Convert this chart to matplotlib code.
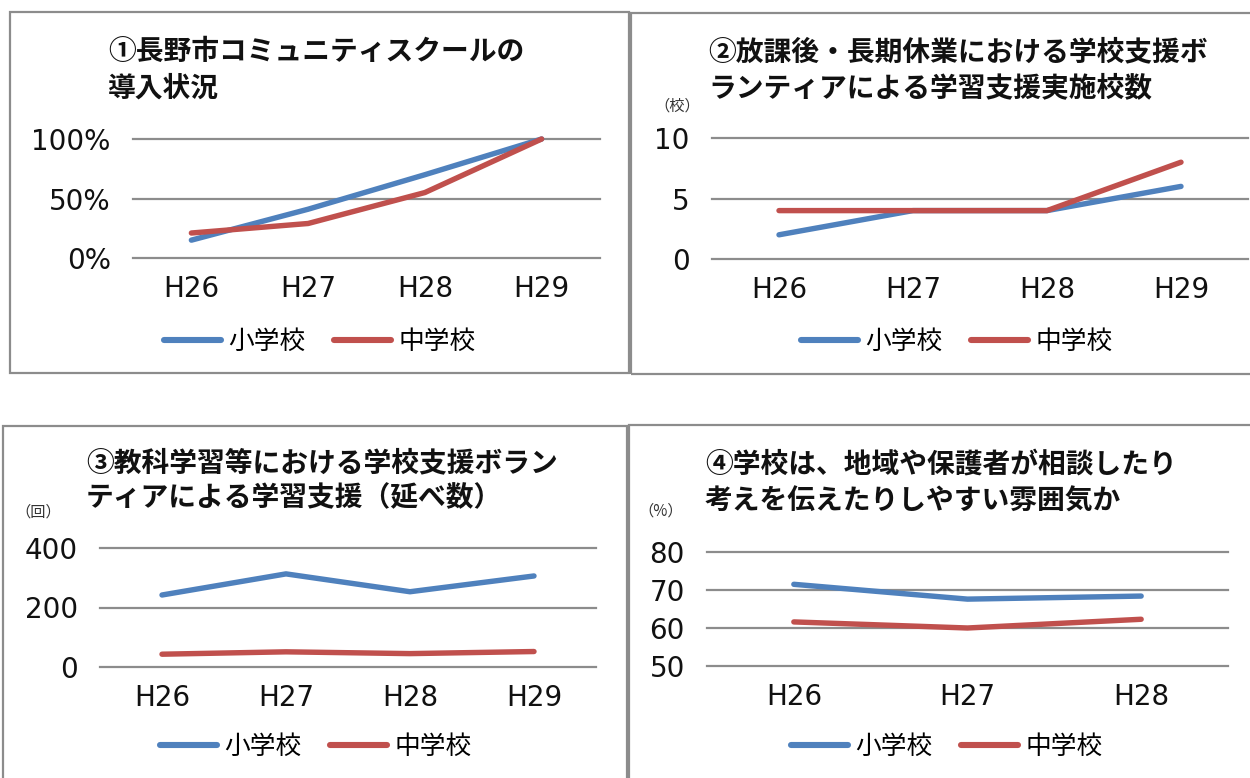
import matplotlib
matplotlib.use('Agg')
import matplotlib.pyplot as plt
from matplotlib.patches import Rectangle
from matplotlib.lines import Line2D
from matplotlib.ticker import FuncFormatter

# ---------------- data ----------------
series_names = ['小学校', '中学校']
years_4 = ['H26', 'H27', 'H28', 'H29']
years_3 = ['H26', 'H27', 'H28']

p1_elem = [0.15, 0.41, 0.70, 1.00]
p1_jr = [0.21, 0.29, 0.55, 1.00]
p1_yticks = [0.0, 0.5, 1.0]

p2_elem = [2, 4, 4, 6]
p2_jr = [4, 4, 4, 8]
p2_yticks = [0, 5, 10]

p3_elem = [242, 313, 253, 306]
p3_jr = [43, 51, 45, 52]
p3_yticks = [0, 200, 400]

p4_elem = [71.5, 67.6, 68.4]
p4_jr = [61.6, 60.0, 62.3]
p4_yticks = [50, 60, 70, 80]

titles = [
    ['①長野市コミュニティスクールの', '導入状況'],
    ['②放課後・長期休業における学校支援ボ', 'ランティアによる学習支援実施校数'],
    ['③教科学習等における学校支援ボラン', 'ティアによる学習支援（延べ数）'],
    ['④学校は、地域や保護者が相談したり', '考えを伝えたりしやすい雰囲気か'],
]
units = [None, '（校）', '（回）', '（%）']

# ---------------- style ----------------
W, H = 1250, 778
BLUE = '#4F81BD'
RED = '#C0504D'
GRID = '#8c8c8c'
BORDER = '#8c8c8c'
JP = ['Noto Sans CJK JP', 'DejaVu Sans']

plt.rcParams['font.family'] = JP

fig = plt.figure(figsize=(W / 100, H / 100), dpi=100)
fig.patch.set_facecolor('white')


def fx(x):
    return x / W


def fy(y):
    return 1 - y / H


def add_ax(x0, ytop, x1, ybot):
    return fig.add_axes([fx(x0), fy(ybot), (x1 - x0) / W, (ybot - ytop) / H])


def border(x0, y0, x1, y1):
    r = Rectangle((fx(x0), fy(y1)), (x1 - x0) / W, (y1 - y0) / H,
                  transform=fig.transFigure, fill=False, edgecolor=BORDER,
                  linewidth=1.6, clip_on=False)
    fig.patches.append(r)


def panel(box, cats, elem, jr, yticks, fmt, title_xy, title_lines, title_dy,
          unit, unit_xy, legend_xy):
    ax = add_ax(*box)
    n = len(cats)
    xs = list(range(n))
    ax.set_xlim(-0.5, n - 0.5)
    ax.set_ylim(yticks[0], yticks[-1])
    for v in yticks:
        ax.axhline(v, color=GRID, linewidth=1.6, clip_on=False, zorder=1)
    ax.plot(xs, elem, color=BLUE, linewidth=3.9, solid_capstyle='round',
            solid_joinstyle='round', clip_on=False, zorder=3)
    ax.plot(xs, jr, color=RED, linewidth=3.9, solid_capstyle='round',
            solid_joinstyle='round', clip_on=False, zorder=3)
    ax.set_xticks(xs)
    ax.set_xticklabels(cats)
    ax.set_yticks(yticks)
    ax.yaxis.set_major_formatter(FuncFormatter(fmt))
    for s in ax.spines.values():
        s.set_visible(False)
    ax.tick_params(axis='both', length=0, labelsize=20, colors='#111111')
    ax.tick_params(axis='y', pad=16)
    ax.tick_params(axis='x', pad=12)
    for lab in ax.get_xticklabels() + ax.get_yticklabels():
        lab.set_family('DejaVu Sans')
    ax.set_facecolor('none')

    tx, ty = title_xy
    for i, line in enumerate(title_lines):
        fig.text(fx(tx), fy(ty + i * title_dy), line, ha='left', va='center',
                 fontsize=20, fontweight='bold', color='#111111', family=JP)
    if unit:
        fig.text(fx(unit_xy[0]), fy(unit_xy[1]), unit, ha='center',
                 va='center', fontsize=11, color='#333333', family=JP)

    handles = [Line2D([], [], color=BLUE, linewidth=4.4, solid_capstyle='round'),
               Line2D([], [], color=RED, linewidth=4.4, solid_capstyle='round')]
    fig.legend(handles, series_names, ncol=2, loc='center',
               bbox_to_anchor=(fx(legend_xy[0]), fy(legend_xy[1])),
               bbox_transform=fig.transFigure, frameon=False,
               prop={'family': JP, 'size': 18.5}, handlelength=2.2,
               handletextpad=0.3, columnspacing=1.1, borderpad=0)
    return ax


pct = lambda v, p: f'{int(round(v * 100))}%'
num = lambda v, p: f'{int(v)}'

# borders
border(10, 12, 629, 373)
border(631, 13, 1300, 374)
border(3, 426, 627, 800)
border(629, 425, 1300, 800)

panel((133, 139, 600, 258), years_4, p1_elem, p1_jr, p1_yticks, pct,
      (108, 52), titles[0], 37, units[0], None, (320, 342))
panel((712, 138, 1248, 259), years_4, p2_elem, p2_jr, p2_yticks, num,
      (708, 52), titles[1], 36, units[1], (677, 106), (957, 342))
panel((100, 548, 596, 667), years_4, p3_elem, p3_jr, p3_yticks, num,
      (86, 463), titles[2], 35, units[2], (38, 512), (316, 747))
panel((707, 552, 1228, 666), years_3, p4_elem, p4_jr, p4_yticks, num,
      (705, 465), titles[3], 37, units[3], (661, 511), (947, 747))

fig.savefig('out.png', dpi=100, facecolor='white')
